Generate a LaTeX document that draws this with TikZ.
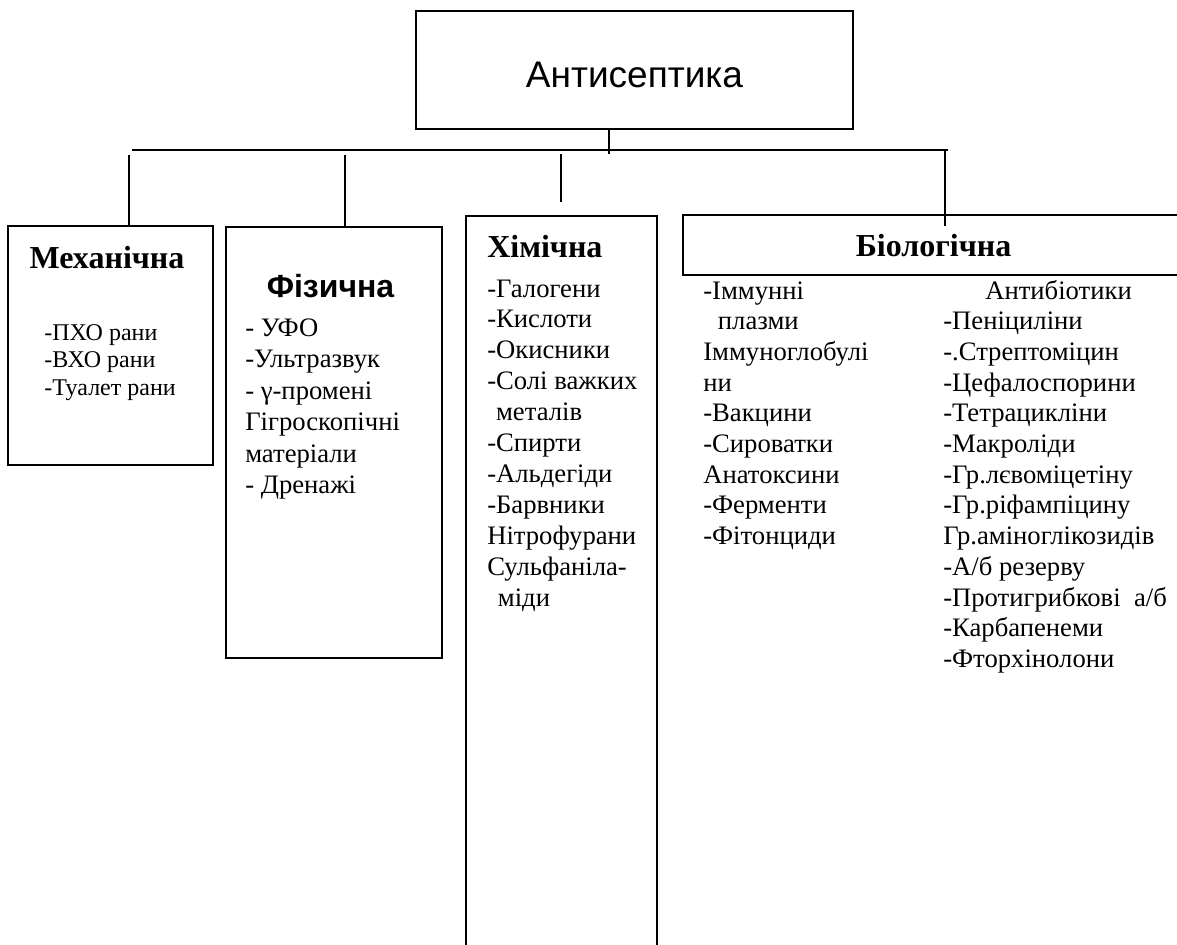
\documentclass[tikz,border=0pt]{standalone}
\usepackage{fontspec}
\setmainfont{Liberation Serif}
\newfontfamily\arialfont{Liberation Sans}
\usetikzlibrary{fit}
\begin{document}
\begin{tikzpicture}[x=0.75pt,y=-0.75pt,
  frame/.style={draw, line width=1.4pt, inner sep=0pt},
  wire/.style={line width=1.3pt},
  item/.style={inner sep=0pt, anchor=base west, font=\fontsize{20}{24}\selectfont},
  smallitem/.style={item, font=\fontsize{18}{21}\selectfont},
  head/.style={inner sep=0pt, anchor=base, font=\fontsize{24}{28}\selectfont\bfseries}]
\useasboundingbox (0,0) rectangle (1177,945);

% root box
\node[frame, fit={(416,11)(853,129)}] (root) {};
\node[inner sep=0pt, anchor=base, font=\arialfont\fontsize{27.75}{32}\selectfont] (roottext) at (634.5,88) {Антисептика};

% category boxes (the last two run past the page edge)
\node[frame, fit={(8,226)(213,465)}] (mech) {};
\node[frame, fit={(226,227)(442,658)}] (phys) {};
\node[frame, fit={(466,216)(657,960)}] (chem) {};
\node[frame, fit={(683,215)(1190,275)}] (bio) {};

% bus and drops
\coordinate (busL) at (132,150);
\coordinate (busR) at (948,150);
\coordinate (trunk) at (609,154);
\coordinate (d1) at (129,155);
\coordinate (d2) at (345,155);
\coordinate (d3) at (561,154);
\coordinate (d3end) at (561,202);
\coordinate (d4) at (945,150);
\coordinate (d4end) at (945,226);
\draw[wire] (busL) -- (busR);
\draw[wire] (trunk |- root.south) -- (trunk);
\draw[wire] (d1) -- (d1 |- mech.north);
\draw[wire] (d2) -- (d2 |- phys.north);
\draw[wire] (d3) -- (d3end);
\draw[wire] (d4) -- (d4end);

% headings
\node[head] (mechtitle) at (107,268) {Механічна};
\node[head, font=\arialfont\fontsize{24}{28}\selectfont\bfseries] (phystitle) at (330.5,297) {Фізична};
\node[head, anchor=base west] (chemtitle) at (487,257) {Хімічна};
\node[head] (biotitle) at (933.5,256) {Біологічна};

% lists
\foreach \t [count=\i from 0] in {-ПХО рани,-ВХО рани,-Туалет рани}
  \node[smallitem] (mech-\i) at (44,{340+27.5*\i}) {\t};

\foreach \t [count=\i from 0] in {- УФО,-Ультразвук,- γ-промені,Гігроскопічні,матеріали,- Дренажі}
  \node[item] (phys-\i) at (245,{336+31.5*\i}) {\t};

\foreach \t [count=\i from 0] in {-Галогени,-Кислоти,-Окисники,-Солі важких,\hspace*{0.33em}металів,-Спирти,-Альдегіди,-Барвники,Нітрофурани,Сульфаніла-,\hspace*{0.4em}міди}
  \node[item] (chem-\i) at (487,{297+30.9*\i}) {\t};

\foreach \t [count=\i from 0] in {-Іммунні,\hspace*{0.55em}плазми,Іммуноглобулі,ни,-Вакцини,-Сироватки,Анатоксини,-Ферменти,-Фітонциди}
  \node[item] (bioL-\i) at (703,{299+30.7*\i}) {\t};

\node[item] (bioR-0) at (985,299) {Антибіотики};
\foreach \t [count=\i from 1] in {-Пеніциліни,-.Стрептоміцин,-Цефалоспорини,-Тетрацикліни,-Макроліди,-Гр.лєвоміцетіну,-Гр.ріфампіцину,Гр.аміноглікозидів,-А/б резерву,-Протигрибкові\hspace{0.5em}а/б,-Карбапенеми,-Фторхінолони}
  \node[item] (bioR-\i) at (943,{299+30.7*\i}) {\t};
\end{tikzpicture}
\end{document}
